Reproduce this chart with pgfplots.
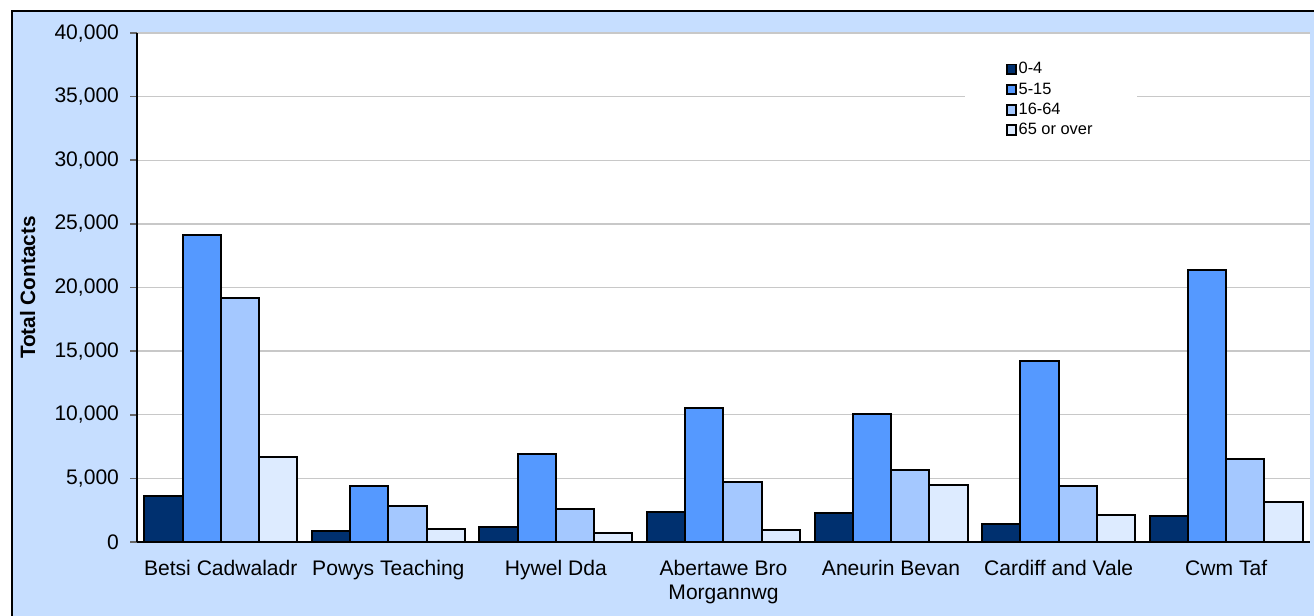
\documentclass[border=0pt]{standalone}
\usepackage{fontspec}
\setmainfont{Liberation Sans}
\usepackage{pgfplots}
\pgfplotsset{compat=1.18}
\usepackage{pgfplotstable}

\definecolor{agenavy}{HTML}{00306F}
\definecolor{agemid}{HTML}{5599FF}
\definecolor{agelight}{HTML}{A4C8FF}
\definecolor{agepale}{HTML}{DDEBFF}
\definecolor{chartbg}{HTML}{C6DEFF}
\definecolor{gridgray}{HTML}{C8C8C8}

% Total contacts by health board and age group
\pgfplotstableread{
x  a04   a515  a1664 a65
0  3600  24100 19200 6650
1  850   4420  2830  1030
2  1150  6900  2600  680
3  2330  10550 4700  970
4  2300  10080 5650  4500
5  1400  14230 4400  2120
6  2040  21370 6550  3140
}\contacts

\pgfplotsset{
  agebar/.style={fill=#1, draw=black, line width=1.5pt,
    legend image code/.code={\draw[fill=#1, draw=black, line width=1.4pt] (0pt,-3.6pt) rectangle (7.2pt,3.6pt);}},
}

\begin{document}
\begin{tikzpicture}
\clip (-102.75pt,-54.75pt) rectangle (882.75pt,406.5pt);
\fill[chartbg] (-93.75pt,-60pt) rectangle (890pt,398.25pt);
\draw[black, line width=1.1pt] (-93.75pt,-60pt) -- (-93.75pt,398.25pt) -- (890pt,398.25pt);
\begin{axis}[
  scale only axis,
  width=879.75pt, height=381.75pt,
  axis background/.style={fill=white},
  ybar=0pt, bar width=28.7pt,
  xmin=-0.5, xmax=6.5,
  ymin=0, ymax=40000,
  ytick={0,5000,...,40000},
  scaled y ticks=false,
  axis x line*=bottom, axis y line*=left,
  axis line style={black, line width=0.9pt},
  xtick={0,...,6},
  xticklabels={Betsi Cadwaladr,Powys Teaching,Hywel Dda,Abertawe Bro\\Morgannwg,Aneurin Bevan,Cardiff and Vale,Cwm Taf},
  x tick style={draw=none},
  xticklabel style={align=center, yshift=-5pt, font=\fontsize{15.8}{18}\selectfont},
  extra x ticks={-0.5,0.5,...,6.5},
  extra x tick labels={},
  extra x tick style={grid=none, tick style={draw=black, line width=0.7pt}, major tick length=5pt, tick align=outside},
  y tick style={draw=black!60, line width=1.2pt},
  major tick length=5pt, tick align=outside,
  ymajorgrids, grid style={gridgray, line width=1pt},
  yticklabel style={font=\fontsize{15.8}{18}\selectfont, xshift=-5pt,
    /pgf/number format/.cd, fixed, 1000 sep={,}, assume math mode=true},
  ylabel={Total Contacts},
  ylabel style={at={(axis description cs:-0.0932,0.5)}, anchor=center, font=\fontsize{15.6}{18}\selectfont\bfseries},
  legend style={at={(0.7405,0.945)}, anchor=north west, draw=none, fill=none,
    inner sep=0pt, row sep=3.2pt, font=\fontsize{12.3}{14}\selectfont,
    nodes={inner sep=1pt, text height=8.5pt, text depth=1.5pt}},
  legend cell align=left,
]
\fill[white] (rel axis cs:0.706,0.774) rectangle (rel axis cs:0.8525,0.971);
\addplot[agebar=agenavy] table[x=x, y=a04] {\contacts};
\addlegendentry{0-4}
\addplot[agebar=agemid] table[x=x, y=a515] {\contacts};
\addlegendentry{5-15}
\addplot[agebar=agelight] table[x=x, y=a1664] {\contacts};
\addlegendentry{16-64}
\addplot[agebar=agepale] table[x=x, y=a65] {\contacts};
\addlegendentry{65 or over}
\end{axis}
\end{tikzpicture}
\end{document}
